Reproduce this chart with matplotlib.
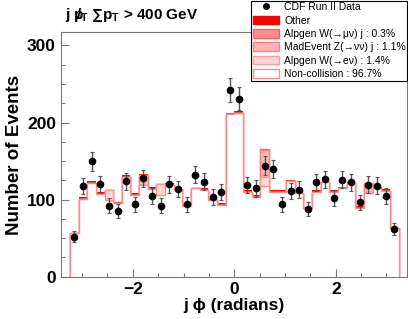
import numpy as np
import matplotlib
matplotlib.use("Agg")
import matplotlib.pyplot as plt
from matplotlib.patches import Patch
from matplotlib.lines import Line2D

plt.rcParams['font.family'] = ['Liberation Sans', 'DejaVu Sans']
plt.rcParams['mathtext.fontset'] = 'custom'
plt.rcParams['mathtext.rm'] = 'Liberation Sans:bold'
plt.rcParams['mathtext.it'] = 'Liberation Sans:bold'
plt.rcParams['mathtext.bf'] = 'Liberation Sans:bold'

# 38 bins in jet phi
edges = np.linspace(-3.24, 3.24, 39)

# CDF Run II data counts per bin
data = [52, 117.5, 150, 120, 92, 85.5, 124, 94, 127.5, 104.5,
        92, 120, 113.5, 94, 132.5, 123, 103.5, 110, 242, 231,
        119, 114.5, 144, 139.5, 94, 111.5, 113, 88, 122.5, 126.5,
        102, 126, 122.5, 96.5, 119.5, 118, 104.5, 62]

# stacked background components
noncol = [57, 101, 121.9, 107.5, 99.3, 95.5, 129.5, 106.5, 119.5, 114,
          105.7, 118.5, 114, 91.5, 114.5, 112.8, 99.8, 92.5, 210.5, 213,
          109.8, 103.3, 117.3, 109.8, 110.5, 124.5, 108.5, 88.5, 110.5, 123,
          110.5, 114.5, 121.5, 89, 108, 117, 110.7, 62.7]
w_enu = [0, 0, 0, 0, 13, 0, 0, 0, 0, 0,
         14, 0, 0, 0, 0, 0, 0, 0, 0, 0,
         0, 0, 12, 0, 0, 0, 0, 0, 0, 0,
         0, 0, 0, 0, 0, 0, 0, 0]
z_nunu = [0, 0, 0, 0, 0, 0, 0, 0, 12, 0,
          0, 0, 0, 0, 0, 0, 0, 0, 0, 0,
          0, 0, 35, 0, 0, 0, 0, 0, 0, 0,
          0, 0, 0, 0, 13, 0, 0, 0]
w_munu = [0, 0, 0, 0, 0, 0, 0, 0, 0, 0,
          0, 0, 0, 0, 0, 0, 0, 0, 0, 0,
          0, 0, 2, 0, 0, 0, 0, 0, 0, 0,
          0, 0, 0, 0, 0, 0, 0, 0]
other = [0, 2.5, 2.5, 2.5, 0, 1.5, 2, 2.5, 1.5, 2.5,
         0, 2.5, 2.5, 2.5, 0, 2.5, 2.5, 2.5, 2.5, 2.5,
         2.5, 2.5, 0, 2.5, 1.5, 1.5, 2.5, 1.5, 1.5, 0,
         1.5, 1.5, 1.5, 2.5, 0, 2.5, 2.5, 0]

labels = ['Other', u'Alpgen W(\u2192\u03bc\u03bd) j : 0.3%',
          u'MadEvent Z(\u2192\u03bd\u03bd) j : 1.1%',
          u'Alpgen W(\u2192e\u03bd) : 1.4%', 'Non-collision : 96.7%']

fig = plt.figure(figsize=(4.08, 3.19), dpi=100)
ax = fig.add_axes([0.149, 0.1326, 0.848, 0.766])

# cumulative stack, bottom to top
comps = [noncol, w_enu, z_nunu, w_munu, other]
faces = ['white', '#ffd6d6', '#ffb4b4', '#ff8c8c', '#ff0000']
lines = ['#ff8c8c', '#ff9a9a', '#ff8080', '#ff6060', 'none']
cum = np.cumsum(np.array(comps, dtype=float), axis=0)
for k in range(len(comps) - 1, -1, -1):
    ax.stairs(cum[k], edges, fill=True, facecolor=faces[k],
              edgecolor=lines[k], lw=1.0)

centers = 0.5 * (edges[:-1] + edges[1:])
d = np.array(data)
ax.errorbar(centers, d, yerr=np.sqrt(d), fmt='o', color='black', ms=4.5,
            ecolor='#555555', elinewidth=1, capsize=1.5, capthick=0.8)

ax.set_xlim(-3.42, 3.40)
ax.set_ylim(0, 317)
ax.set_xticks([-2, 0, 2])
ax.set_xticks(np.arange(-3, 3.01, 0.5), minor=True)
ax.set_yticks([0, 100, 200, 300])
ax.set_yticks(np.arange(0, 317, 25), minor=True)
ax.tick_params(which='both', direction='in', color='#777777', width=0.8,
               labelsize=12.5)
ax.tick_params(which='major', length=6)
ax.tick_params(which='minor', length=3)
for lab in ax.get_xticklabels() + ax.get_yticklabels():
    lab.set_fontweight('bold')
for s in ax.spines.values():
    s.set_color('#777777')
    s.set_linewidth(0.8)

ax.set_xlabel(u'j \u03d5 (radians)', fontsize=12.5, fontweight='bold', labelpad=1)
ax.set_ylabel('Number of Events', fontsize=13.5, fontweight='bold', labelpad=3)

fig.text(0.16, 0.952, r'j $p\!\!\!/_T$ $\sum p_T$ > 400 GeV', fontsize=11,
         fontweight='bold', va='center')

handles = [Line2D([], [], marker='o', color='black', ls='none', ms=4)]
for k in range(len(comps) - 1, -1, -1):
    ec = lines[k] if lines[k] != 'none' else '#ff0000'
    handles.append(Patch(facecolor=faces[k], edgecolor=ec, lw=1))
leg = fig.legend(handles, ['CDF Run II Data'] + labels,
                 loc='upper right', bbox_to_anchor=(1.0, 0.999),
                 fontsize=7.5, frameon=True, fancybox=False, framealpha=1,
                 edgecolor='black', borderpad=0.15, labelspacing=0.32,
                 handlelength=2.5, handleheight=0.9, handletextpad=0.5,
                 borderaxespad=0.05)
leg.get_frame().set_linewidth(0.8)

fig.savefig('out.png', dpi=100)
